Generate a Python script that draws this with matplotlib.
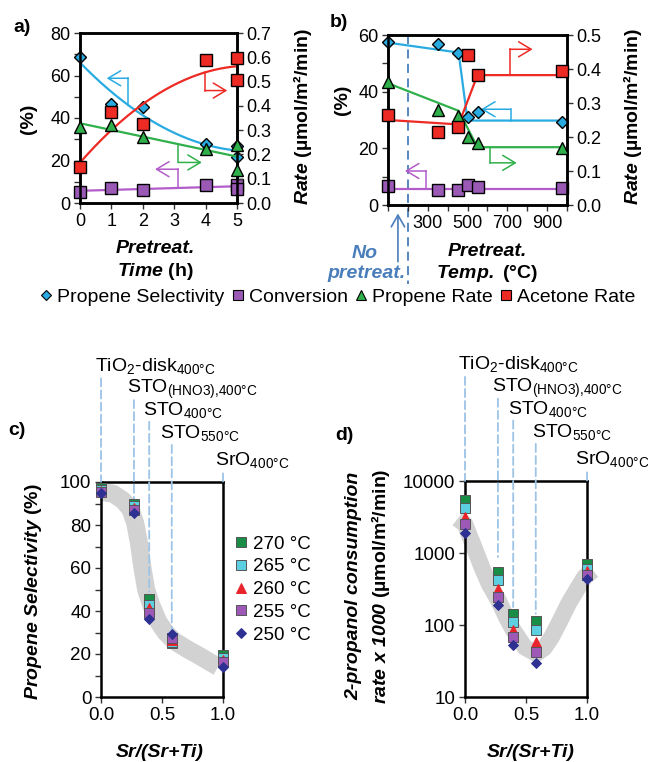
import numpy as np
import matplotlib.pyplot as plt
from matplotlib.ticker import MultipleLocator, FormatStrFormatter, NullLocator
from matplotlib.lines import Line2D

plt.rcParams['font.family'] = ['Liberation Sans', 'DejaVu Sans']
plt.rcParams['mathtext.fontset'] = 'custom'
plt.rcParams['mathtext.rm'] = 'Liberation Sans'
plt.rcParams['mathtext.it'] = 'Liberation Sans:italic'
plt.rcParams['mathtext.bf'] = 'Liberation Sans:bold'
plt.rcParams['mathtext.bfit'] = 'Liberation Sans:bold:italic'
plt.rcParams['mathtext.default'] = 'regular'

# ---- panel a: pretreatment time ----
time_h = [0, 1, 2, 4, 5, 5]
sel_a = [68.5, 46.4, 45.0, 27.8, 27.0, 21.8]          # propene selectivity (%)
conv_a = [5.0, 7.2, 6.1, 8.5, 8.5, 6.4]               # conversion (%)
prop_rate_a = [0.312, 0.320, 0.273, 0.224, 0.238, 0.136]
acet_rate_a = [0.147, 0.373, 0.325, 0.589, 0.598, 0.506]

# ---- panel b: pretreatment temperature (100 = no pretreatment) ----
temp_c = [100, 350, 450, 500, 550, 975]
sel_b = [57.6, 56.8, 53.5, 31.2, 32.7, 29.4]
conv_b = [6.8, 5.4, 5.3, 7.1, 6.2, 5.9]
prop_rate_b = [0.363, 0.279, 0.263, 0.201, 0.181, 0.167]
acet_rate_b = [0.265, 0.214, 0.230, 0.441, 0.382, 0.394]
# guide lines in b
sel_line_x = [100, 455, 500, 975]
sel_line_y = [57.3, 53.8, 29.8, 29.8]
conv_line_x = [100, 975]
conv_line_y = [5.7, 5.7]
prop_line_x = [100, 455, 550, 975]
prop_line_y = [0.358, 0.277, 0.170, 0.170]
acet_line_x = [100, 455, 550, 975]
acet_line_y = [0.250, 0.237, 0.382, 0.382]
b_xticks = [300, 500, 700, 900]

# ---- panels c, d: Sr/(Sr+Ti) ----
sr_frac = [0.0, 0.27, 0.395, 0.58, 1.0]
temps = ['270 °C', '265 °C', '260 °C', '255 °C', '250 °C']
sel_c = [
    [97.0, 90.0, 45.4, 25.0, 19.7],
    [96.4, 88.8, 42.8, 25.7, 18.3],
    [95.8, 88.0, 41.5, 26.5, 17.2],
    [95.3, 87.0, 38.9, 27.6, 16.1],
    [95.0, 85.5, 36.1, 29.2, 14.1],
]
rate_d = [
    [5400, 545, 141, 114, 697],
    [4280, 427, 110, 84, 607],
    [3160, 320, 86, 58, 557],
    [2560, 245, 68, 42, 501],
    [1920, 188, 53, 30, 441],
]
c_band_x = [0.0, 0.1, 0.18, 0.24, 0.28, 0.31, 0.34, 0.37, 0.41, 0.47, 0.53, 0.6, 0.7, 0.81, 0.96]
c_band_y = [95.5, 94.5, 91.5, 87.5, 81, 72, 60, 50, 43, 35, 30, 26, 22.5, 19, 14]
d_band_x = [-0.06, 0.0, 0.07, 0.137, 0.2, 0.274, 0.335, 0.395, 0.49, 0.585, 0.65, 0.71, 0.78, 0.85, 0.92, 0.98, 1.05]
d_band_y = [3000, 2500, 1260, 640, 363, 220, 132, 85, 49, 40, 48, 68, 115, 200, 316, 465, 575]
samples = ['TiO$_2$-disk$_{400°C}$', 'STO$_{(HNO3){,}400°C}$', 'STO$_{400°C}$',
           'STO$_{550°C}$', 'SrO$_{400°C}$']
c_text_x = [-0.05, 0.213, 0.344, 0.484, 0.934]
d_text_x = [-0.055, 0.219, 0.355, 0.547, 0.90]
c_guide_bottom = [100, 91, 49, 31, 100]
d_guide_bottom = [10000, 880, 178, 144, 10000]

BLUE, PURPLE, GREEN, RED = '#29abe2', '#9b59b6', '#2fb04a', '#ee2a24'
PURPLE_LINE = '#b25cc9'
T_COLORS = ['#198c45', '#5ccfe0', '#e8242a', '#9d59b5', '#2e3192']
T_MARKERS = ['s', 's', '^', 's', 'D']
NOTE_BLUE = '#4a7ebb'
GUIDE = '#9dc3e6'

W, H = 648, 762
fig = plt.figure(figsize=(W / 100, H / 100), dpi=100)


def box(l, t, r, b):
    return [l / W, 1 - b / H, (r - l) / W, (b - t) / H]


def ftext(x, y, s, **kw):
    fig.text(x / W, 1 - y / H, s, **kw)


def style_axes(ax, size):
    for sp in ax.spines.values():
        sp.set_linewidth(1.8)
    ax.tick_params(which='both', direction='out', length=4, width=1, color='#333333',
                   labelsize=size, pad=3)


def bracket(ax, x0, y_line, y_arrow, x1, color):
    ax.plot([x0, x0], [y_line, y_arrow], color=color, lw=1.1, zorder=2)
    ax.annotate('', xy=(x1, y_arrow), xytext=(x0, y_arrow),
                arrowprops=dict(arrowstyle='->,head_length=0.75,head_width=0.45', color=color,
                                lw=1.1, shrinkA=0, shrinkB=0, mutation_scale=12))


mk = dict(mec='black', mew=1, clip_on=False, zorder=4, ls='none')

# ================= panel a =================
ax_a = fig.add_axes(box(80, 33, 237, 203))
ax_a2 = ax_a.twinx()
xs = np.linspace(0, 5, 200)
sel_fit = np.poly1d(np.polyfit(time_h, sel_a, 2))
conv_fit = np.poly1d(np.polyfit(time_h, conv_a, 1))
prop_fit = np.poly1d(np.polyfit(time_h, prop_rate_a, 1))
acet_fit = np.poly1d(np.polyfit(time_h, acet_rate_a, 2))
ax_a.plot(xs, sel_fit(xs), color=BLUE, lw=1.6, zorder=2)
ax_a.plot(xs, conv_fit(xs), color=PURPLE_LINE, lw=1.6, zorder=2)
ax_a.plot(time_h, sel_a, 'D', ms=6.5, mfc=BLUE, **mk)
ax_a.plot(time_h, conv_a, 's', ms=8, mfc=PURPLE, **mk)
ax_a2.plot(xs, prop_fit(xs), color=GREEN, lw=1.6, zorder=2)
ax_a2.plot(xs, acet_fit(xs), color=RED, lw=1.6, zorder=2)
ax_a2.plot(time_h, prop_rate_a, '^', ms=8.5, mfc=GREEN, **mk)
ax_a2.plot(time_h, acet_rate_a, 's', ms=8, mfc=RED, **mk)
bracket(ax_a, 1.54, sel_fit(1.54), 58.7, 0.85, BLUE)
bracket(ax_a, 3.13, conv_fit(3.13), 15.9, 2.39, PURPLE_LINE)
bracket(ax_a2, 3.98, acet_fit(3.98), 0.463, 4.69, RED)
bracket(ax_a2, 3.13, prop_fit(3.13), 0.167, 3.88, GREEN)
ax_a.set_xlim(0, 5)
ax_a.set_ylim(0, 80)
ax_a2.set_ylim(0, 0.7)
ax_a.set_xticks(range(0, 6))
ax_a.yaxis.set_major_locator(MultipleLocator(20))
ax_a.yaxis.set_minor_locator(MultipleLocator(10))
ax_a2.yaxis.set_major_locator(MultipleLocator(0.1))
ax_a2.yaxis.set_major_formatter(FormatStrFormatter('%.1f'))
for ax in (ax_a, ax_a2):
    style_axes(ax, 13)

# ================= panel b =================
ax_b = fig.add_axes(box(388, 35, 567, 205))
ax_b2 = ax_b.twinx()
ax_b.plot(sel_line_x, sel_line_y, color=BLUE, lw=1.6, zorder=2)
ax_b.plot(conv_line_x, conv_line_y, color=PURPLE_LINE, lw=1.6, zorder=2)
ax_b.plot(temp_c, sel_b, 'D', ms=6.5, mfc=BLUE, **mk)
ax_b.plot(temp_c, conv_b, 's', ms=8, mfc=PURPLE, **mk)
ax_b2.plot(prop_line_x, prop_line_y, color=GREEN, lw=1.6, zorder=2)
ax_b2.plot(acet_line_x, acet_line_y, color=RED, lw=1.6, zorder=2)
ax_b2.plot(temp_c, prop_rate_b, '^', ms=8.5, mfc=GREEN, **mk)
ax_b2.plot(temp_c, acet_rate_b, 's', ms=8, mfc=RED, **mk)
bracket(ax_b2, 712, np.interp(712, acet_line_x, acet_line_y), 0.458, 827, RED)
bracket(ax_b, 716, np.interp(716, sel_line_x, sel_line_y), 33.8, 568, BLUE)
bracket(ax_b2, 613, np.interp(613, prop_line_x, prop_line_y), 0.124, 747, GREEN)
bracket(ax_b, 293, np.interp(293, conv_line_x, conv_line_y), 12.0, 185, PURPLE_LINE)
ax_b.set_xlim(100, 1000)
ax_b.set_ylim(0, 60)
ax_b2.set_ylim(0, 0.5)
ax_b.set_xticks(b_xticks)
ax_b.xaxis.set_minor_locator(MultipleLocator(100))
ax_b.yaxis.set_major_locator(MultipleLocator(20))
ax_b.yaxis.set_minor_locator(MultipleLocator(10))
ax_b2.yaxis.set_major_locator(MultipleLocator(0.1))
ax_b2.yaxis.set_major_formatter(FormatStrFormatter('%.1f'))
for ax in (ax_b, ax_b2):
    style_axes(ax, 13)
# "no pretreatment" marker line and arrow
ax_b.plot([200, 200], [60, -28], color=NOTE_BLUE, lw=1.3, ls=(0, (5, 3)), clip_on=False, zorder=1)
ax_b.annotate('', xy=(150, -3), xytext=(150, -20), annotation_clip=False,
              arrowprops=dict(arrowstyle='->,head_length=0.7,head_width=0.4', color=NOTE_BLUE,
                              lw=1.2, shrinkA=0, shrinkB=0, mutation_scale=12))

# ================= panels c and d =================
ax_c = fig.add_axes(box(101, 482, 223, 697))
ax_d = fig.add_axes(box(465, 481, 587, 697))
ax_c.plot(c_band_x, c_band_y, color='#d2d2d2', lw=13, solid_capstyle='butt',
          solid_joinstyle='round', zorder=1)
ax_d.plot(d_band_x, d_band_y, color='#d2d2d2', lw=12, solid_capstyle='butt',
          solid_joinstyle='round', zorder=1, clip_on=False)
for i in range(len(temps)):
    edge = T_COLORS[i] if T_MARKERS[i] in ('^', 'D') else '#555555'
    ms = 6.5 if T_MARKERS[i] != 'D' else 5.5
    ax_c.plot(sr_frac, sel_c[i], T_MARKERS[i], ms=ms, mfc=T_COLORS[i], mec=edge, mew=0.7,
              clip_on=False, zorder=4, label=temps[i])
    ax_d.plot(sr_frac, rate_d[i], T_MARKERS[i], ms=ms, mfc=T_COLORS[i], mec=edge, mew=0.7,
              clip_on=False, zorder=4)

ax_c.set_xlim(0, 1)
ax_c.set_ylim(0, 100)
ax_c.yaxis.set_major_locator(MultipleLocator(20))
ax_c.yaxis.set_minor_locator(MultipleLocator(10))
ax_d.set_xlim(0, 1)
ax_d.set_yscale('log')
ax_d.set_ylim(10, 10000)
ax_d.set_yticks([10, 100, 1000, 10000])
ax_d.set_yticklabels(['10', '100', '1000', '10000'])
ax_d.yaxis.set_minor_locator(NullLocator())
tops = [1.482, 1.381, 1.28, 1.172, 1.04]
bases = [1.518, 1.413, 1.312, 1.203, 1.079]
for ax, bottoms, text_x in ((ax_c, c_guide_bottom, c_text_x), (ax_d, d_guide_bottom, d_text_x)):
    ax.set_xticks([0, 0.5, 1.0])
    ax.set_xticklabels(['0.0', '0.5', '1.0'])
    style_axes(ax, 13.5)
    ax.tick_params(top=False, right=False)
    for j in range(len(samples)):
        ax.annotate('', xy=(sr_frac[j], bottoms[j]), xycoords='data',
                    xytext=(sr_frac[j], tops[j]), textcoords=('data', 'axes fraction'),
                    annotation_clip=False,
                    arrowprops=dict(arrowstyle='-', color=GUIDE, lw=1.3, ls=(0, (4.5, 2.2)),
                                    shrinkA=0, shrinkB=0))
        ax.annotate(samples[j], xy=(text_x[j], bases[j]),
                    xycoords=('data', 'axes fraction'), ha='left', va='baseline',
                    fontsize=14, annotation_clip=False)

ax_c.legend(loc='center left', bbox_to_anchor=(1.1, 0.5), frameon=False, fontsize=13.5,
            handlelength=0.6, handletextpad=0.35, labelspacing=0.3, borderaxespad=0,
            borderpad=0)

# ================= shared legend =================
handles = [
    Line2D([], [], marker='D', ls='none', ms=5.5, mfc=BLUE, mec='black', mew=0.8),
    Line2D([], [], marker='s', ls='none', ms=7, mfc=PURPLE, mec='black', mew=0.8),
    Line2D([], [], marker='^', ls='none', ms=7, mfc=GREEN, mec='black', mew=0.8),
    Line2D([], [], marker='s', ls='none', ms=7, mfc=RED, mec='black', mew=0.8),
]
fig.legend(handles, ['Propene Selectivity', 'Conversion', 'Propene Rate', 'Acetone Rate'],
           loc='center', bbox_to_anchor=(338 / W, 1 - 297 / H), ncol=4, frameon=False,
           fontsize=14, handlelength=0.6, handletextpad=0.25, columnspacing=0.4,
           borderpad=0, borderaxespad=0)

# ================= text labels =================
ftext(13, 32, 'a)', fontsize=14, weight='bold')
ftext(330, 27, 'b)', fontsize=14, weight='bold')
ftext(8, 435, 'c)', fontsize=14, weight='bold')
ftext(335, 440, 'd)', fontsize=14, weight='bold')

ftext(28, 119, '(%)', rotation=90, weight='bold', fontsize=14, ha='center', va='center')
ftext(302, 117, r'$\mathbfit{Rate}$ (µmol/m²/min)', rotation=90, weight='bold', fontsize=14,
      ha='center', va='center')
ftext(155, 253, 'Pretreat.', style='italic', weight='bold', fontsize=14, ha='center', va='baseline')
ftext(155, 276, r'$\mathbfit{Time}$ (h)', weight='bold', fontsize=14, ha='center', va='baseline')

ftext(342, 100, '(%)', rotation=90, weight='bold', fontsize=14, ha='center', va='center')
ftext(632, 117, r'$\mathbfit{Rate}$ (µmol/m²/min)', rotation=90, weight='bold', fontsize=14,
      ha='center', va='center')
ftext(487, 256, 'Pretreat.', style='italic', weight='bold', fontsize=14, ha='center', va='baseline')
ftext(487, 278, r'$\mathbfit{Temp.}$ (°C)', weight='bold', fontsize=14, ha='center', va='baseline')
ftext(365, 258, 'No', style='italic', weight='bold', fontsize=14, color=NOTE_BLUE,
      ha='center', va='baseline')
ftext(366, 278, 'pretreat.', style='italic', weight='bold', fontsize=14, color=NOTE_BLUE,
      ha='center', va='baseline')

ftext(34, 592, r'$\mathbfit{Propene\ Selectivity}$ (%)', rotation=90, weight='bold',
      fontsize=14, ha='center', va='center')
ftext(160, 757, 'Sr/(Sr+Ti)', style='italic', weight='bold', fontsize=14, ha='center',
      va='baseline')
ftext(354, 586, '2-propanol consumption', style='italic', weight='bold', fontsize=14,
      rotation=90, ha='center', va='center')
ftext(380, 586, r'$\mathbfit{rate\ x\ 1000}$ (µmol/m²/min)', weight='bold', fontsize=14,
      rotation=90, ha='center', va='center')
ftext(531, 757, 'Sr/(Sr+Ti)', style='italic', weight='bold', fontsize=14, ha='center',
      va='baseline')

fig.savefig('out.png', dpi=100)
